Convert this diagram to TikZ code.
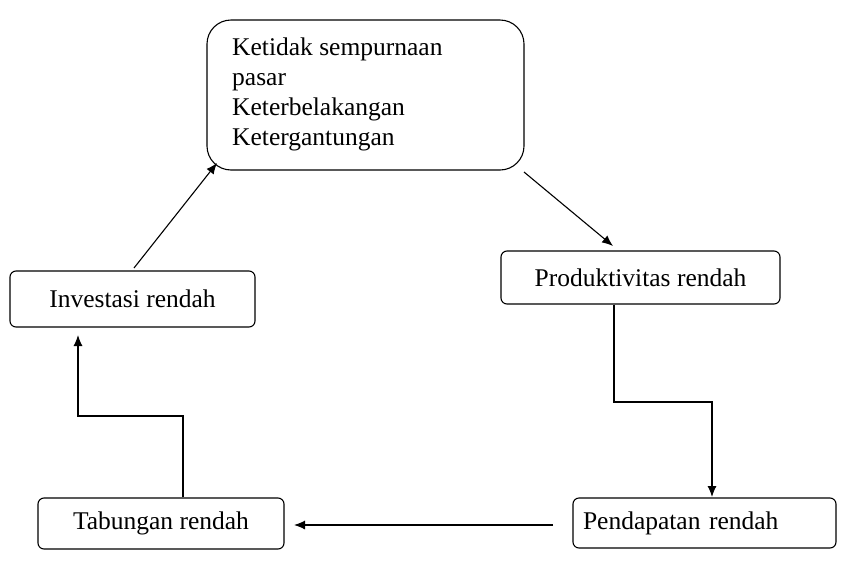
\documentclass[tikz,border=0pt]{standalone}
\usepackage{fontspec}
\setmainfont{Liberation Serif}
\usetikzlibrary{arrows.meta}
\tikzset{
  box/.style={draw, line width=1.1pt, rounded corners=6pt, minimum height=54pt, font=\fontsize{25.5}{30}\selectfont},
  flow/.style={line width=1.1pt, -{Latex[length=11pt,width=9pt]}}
}
\begin{document}
\begin{tikzpicture}[x=1pt,y=-1pt]
\useasboundingbox (0,0) rectangle (852,571);
% boxes
\node[box, rounded corners=24pt, minimum width=317pt, minimum height=150pt] (faktor) at (365.5,95) {};
\node[anchor=north west, align=left, inner sep=0pt, font=\fontsize{25.5}{30}\selectfont] (faktortxt) at (232,38)
  {Ketidak sempurnaan\\pasar\\Keterbelakangan\\Ketergantungan};
\node[box, minimum width=245pt, minimum height=56pt] (investasi) at (132.5,299) {Investasi rendah};
\node[box, minimum width=279pt, minimum height=53pt] (produktivitas) at (640.5,277.5) {Produktivitas rendah};
\node[box, minimum width=263pt, minimum height=50pt, text width=243pt, align=left] (pendapatan) at (704.5,523) {Pendapatan rendah};
\node[box, minimum width=246pt, minimum height=51pt] (tabungan) at (161,523.5) {Tabungan rendah};
% connectors
\coordinate (a1) at (524,172);
\coordinate (a2) at (613,246);
\draw[flow] (a1) -- (a2);
\coordinate (b1) at (134,268);
\coordinate (b2) at (217,163);
\draw[flow] (b1) -- (b2);
\draw[flow] (produktivitas.south -| 614,0) -- (614,402) -- (712,402) -- (712,497);
\draw[flow] (553,525) -- (294,525);
\draw[flow] (tabungan.north -| 183,0) -- (183,416) -- (78,416) -- (78,335);
\end{tikzpicture}
\end{document}
